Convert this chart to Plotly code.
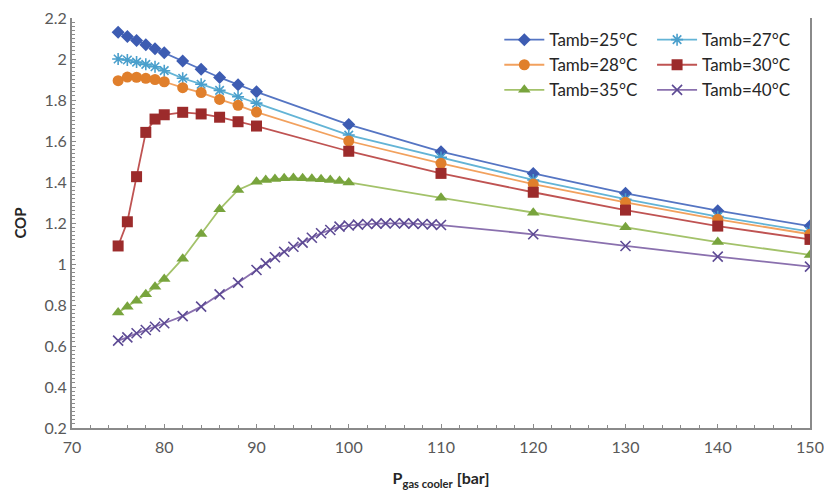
import plotly.graph_objects as go

# ---- data ----
p_25 = [75, 76, 77, 78, 79, 80, 82, 84, 86, 88, 90, 100, 110, 120, 130, 140, 150]
cop_25 = [2.13, 2.11, 2.09, 2.07, 2.05, 2.03, 1.99, 1.95, 1.91, 1.875, 1.84, 1.68, 1.548, 1.442, 1.345, 1.26, 1.185]

p_27 = [75, 76, 77, 78, 79, 80, 82, 84, 86, 88, 90, 100, 110, 120, 130, 140, 150]
cop_27 = [2.0, 1.995, 1.985, 1.974, 1.962, 1.943, 1.906, 1.877, 1.847, 1.816, 1.785, 1.629, 1.52, 1.41, 1.316, 1.231, 1.158]

p_28 = [75, 76, 77, 78, 79, 80, 82, 84, 86, 88, 90, 100, 110, 120, 130, 140, 150]
cop_28 = [1.894, 1.912, 1.911, 1.906, 1.9, 1.889, 1.86, 1.836, 1.803, 1.774, 1.741, 1.6, 1.491, 1.39, 1.301, 1.218, 1.145]

p_30 = [75, 76, 77, 78, 79, 80, 82, 84, 86, 88, 90, 100, 110, 120, 130, 140, 150]
cop_30 = [1.088, 1.206, 1.426, 1.642, 1.707, 1.728, 1.74, 1.732, 1.716, 1.694, 1.673, 1.55, 1.442, 1.35, 1.263, 1.185, 1.12]

p_35 = [75, 76, 77, 78, 79, 80, 82, 84, 86, 88, 90, 91, 92, 93, 94, 95, 96, 97, 98, 99, 100,
        110, 120, 130, 140, 150]
cop_35 = [0.764, 0.792, 0.821, 0.852, 0.889, 0.927, 1.026, 1.146, 1.267, 1.361, 1.401, 1.41, 1.415,
          1.418, 1.419, 1.418, 1.416, 1.413, 1.41, 1.405, 1.398, 1.323, 1.25, 1.179, 1.107, 1.044]

p_40 = [75, 76, 77, 78, 79, 80, 82, 84, 86, 88, 90, 91, 92, 93, 94, 95, 96, 97, 98, 99, 100,
        101, 102, 103, 104, 105, 106, 107, 108, 109, 110, 120, 130, 140, 150]
cop_40 = [0.626, 0.642, 0.662, 0.678, 0.694, 0.711, 0.746, 0.792, 0.852, 0.909, 0.971, 1.003, 1.033,
          1.06, 1.084, 1.104, 1.128, 1.15, 1.166, 1.182, 1.188, 1.192, 1.195, 1.197, 1.198, 1.199,
          1.198, 1.197, 1.195, 1.193, 1.19, 1.145, 1.088, 1.036, 0.987]

series = [
    ("Tamb=25°C", p_25, cop_25, "#5575C3", "#3D5CB2", "diamond", 10, "legend"),
    ("Tamb=27°C", p_27, cop_27, "#63B4D6", "#4A9FCC", "asterisk-open", 10, "legend2"),
    ("Tamb=28°C", p_28, cop_28, "#F2A15E", "#E07F2C", "circle", 11, "legend"),
    ("Tamb=30°C", p_30, cop_30, "#BF5352", "#9C2B2B", "square", 11, "legend2"),
    ("Tamb=35°C", p_35, cop_35, "#A3C26A", "#78A43D", "triangle-up", 11, "legend"),
    ("Tamb=40°C", p_40, cop_40, "#8A70AE", "#5D4A94", "x-thin-open", 10, "legend2"),
]

fig = go.Figure()
for name, xs, ys, lc, mc, sym, sz, leg in series:
    mk = dict(symbol=sym, size=sz, color=mc)
    if sym.endswith("-open"):
        mk["line"] = dict(color=mc, width=1.6)
    fig.add_trace(go.Scatter(
        x=xs, y=ys, name=name, mode="lines+markers",
        line=dict(color=lc, width=1.8), marker=mk, legend=leg,
    ))

font_family = "Lato, Open Sans, sans-serif"
axis_common = dict(
    showline=True, linecolor="#8a8a8a", linewidth=2, showgrid=False, zeroline=False,
    ticks="inside", ticklen=4, tickcolor="#8a8a8a", automargin=False,
    tickfont=dict(family=font_family, size=16, color="#595959"),
)

fig.update_layout(
    width=824, height=490,
    margin=dict(l=72, r=14, t=18, b=62),
    paper_bgcolor="white", plot_bgcolor="white",
    font=dict(family=font_family, color="#262626"),
    xaxis=dict(
        range=[70, 150], dtick=10, tick0=70, ticklabelstandoff=4,
        minor=dict(dtick=2, ticks="inside", ticklen=3, tickcolor="#8a8a8a"),
        title=dict(text="<b>P<sub>gas cooler</sub> [bar]</b>", font=dict(size=16, color="#262626"), standoff=18),
        **axis_common,
    ),
    yaxis=dict(
        range=[0.2, 2.2], dtick=0.2, tick0=0.2,
        minor=dict(dtick=0.02, ticks="inside", ticklen=3, tickcolor="#8a8a8a"),
        mirror=True,
        title=dict(text="<b>COP</b>", font=dict(size=15, color="#262626"), standoff=14),
        **axis_common,
    ),
    legend=dict(x=0.579, y=0.99, xanchor="left", yanchor="top", bgcolor="rgba(0,0,0,0)",
                font=dict(size=17, color="#262626"), tracegroupgap=0, itemwidth=40),
    legend2=dict(x=0.786, y=0.99, xanchor="left", yanchor="top", bgcolor="rgba(0,0,0,0)",
                 font=dict(size=17, color="#262626"), tracegroupgap=0, itemwidth=40),
)

fig.write_html("out.html")
